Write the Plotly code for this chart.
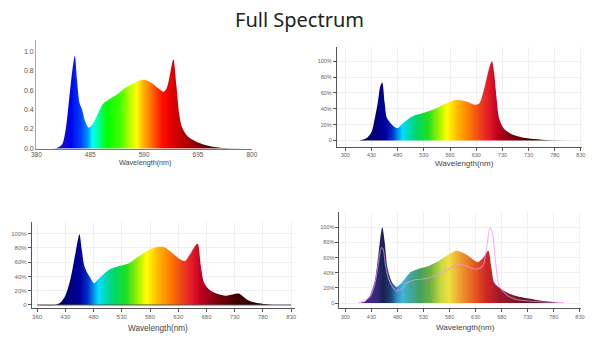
import plotly.graph_objects as go

# ---------------- data ----------------
# Panel 1 (top-left), relative intensity 0..1
wl1 = [380, 420, 430, 437, 443, 450, 455, 459, 464, 469, 475, 482, 491, 501, 510, 523, 536, 555,
       572, 590, 606, 620, 628, 634, 640, 647, 653, 658, 663, 670, 676, 695, 721, 750, 800]
val1 = [0.0, 0.005, 0.04, 0.19, 0.46, 0.80, 0.955, 0.72, 0.47, 0.40, 0.28, 0.215, 0.26, 0.37, 0.46,
        0.51, 0.55, 0.63, 0.68, 0.707, 0.67, 0.61, 0.585, 0.62, 0.75, 0.92, 0.65, 0.37, 0.23, 0.16,
        0.12, 0.06, 0.02, 0.003, 0.0]

# Panel 2 (top-right), percent
wl2 = [407, 421, 430, 436, 442, 447, 450.5, 455, 459, 464, 472, 480, 489, 502, 514, 533, 552, 570,
       592, 611, 627, 636, 645, 655, 660, 664, 669, 674, 683, 699, 724, 755, 802]
val2 = [0, 3, 10.5, 27, 48, 69, 73, 48, 29, 24, 18, 15.5, 21, 28, 32, 35.6, 40, 46,
        51, 49, 45, 47, 65, 92, 100, 86, 52, 27, 14.7, 7.5, 3, 1, 0]

# Panel 3 (bottom-left), percent
wl3 = [380, 413, 422, 430, 439, 448, 455, 459, 463.5, 469, 474, 481, 488, 500, 511.5, 526, 543.5,
       561, 578, 595, 605, 618, 633, 642, 650.6, 664, 670, 675.6, 685, 700, 714, 729, 737, 752,
       764, 781, 804, 830]
val3 = [0, 0.5, 4, 13, 36, 73, 99, 78, 55, 45, 38.5, 30.6, 36, 45, 51, 54.7, 59,
        68.6, 77, 81.5, 81, 74, 64, 61.6, 70.8, 86, 54.7, 31.5, 21.3, 15.3, 13, 15.3, 16, 7.5,
        3.8, 1.5, 0, 0]

# Panel 4 (bottom-right), percent: filled spectrum and pink comparison line
wl4 = [405, 417.7, 427, 436.5, 442.7, 450.8, 455.3, 459.7, 464.7, 471, 478.5, 486.6, 496, 505.4,
       521.2, 540, 559, 577.7, 593.3, 612, 624.8, 634.2, 643.6, 654.2, 659.2, 665.5, 674.9, 693.7,
       719, 744, 769, 788, 794]
val4 = [0, 2, 9.6, 29, 60, 100, 81.6, 51, 36, 25.7, 21.4, 25.7, 33.6, 41,
        45.4, 49, 55.4, 64, 69, 64, 57.5, 54, 59, 69, 51, 27, 20.5, 12.7,
        7.5, 4.4, 2, 0.5, 0]
wl4p = [405, 427, 436.5, 442.7, 449, 452, 457.2, 463.4, 471, 478.5, 486.6, 499, 514.8, 533.7, 559,
        577.7, 593.3, 612, 631, 643.6, 651, 657.4, 662.5, 668.7, 674.9, 687.5, 706.3, 744, 800]
val4p = [0, 8, 25, 50, 72.8, 72, 49, 31, 20.5, 16, 18, 27, 31, 32, 38,
         44.5, 51, 49, 44.5, 49, 73, 100, 90, 51, 22.7, 11.8, 5, 2, 0.5]

# tick labels
x1_ticks = [380, 485, 590, 695, 800]
y1_ticks = [0, 0.2, 0.4, 0.6, 0.8, 1.0]
x_ticks = [380, 430, 480, 530, 580, 630, 680, 730, 780, 830]
x2_text = ["300", "430", "480", "530", "560", "630", "730", "730", "780", "830"]
x3_text = ["360", "430", "480", "530", "580", "630", "680", "730", "780", "830"]
x4_text = ["300", "430", "480", "530", "580", "630", "680", "730", "780", "830"]
y_ticks = [0, 20, 40, 60, 80, 100]
y_text = ["0", "20%", "40%", "60%", "80%", "100%"]

# colour stops along wavelength
c1_wl = [400, 430, 445, 465, 478, 487, 500, 515, 540, 560, 572, 585, 600, 620, 640, 665, 700, 760, 800]
c1_col = ["#1a0050", "#1010c0", "#0000f0", "#0040ff", "#0090ff", "#00ffff", "#00ff90", "#00ff00",
          "#40ff00", "#c0ff00", "#ffff00", "#ffb000", "#ff7000", "#ff1000", "#e00000", "#b00000",
          "#700000", "#200000", "#000000"]
c2_wl = [400, 440, 455, 468, 478, 487, 500, 515, 535, 555, 570, 590, 610, 630, 650, 665, 690, 730, 800]
c2_col = ["#000060", "#000080", "#0000a0", "#0030c8", "#0090e8", "#00e0ff", "#00d8b0", "#00d860",
          "#20e020", "#a0f000", "#ffff00", "#ffb800", "#ff8000", "#f04818", "#e01828", "#c00020",
          "#800010", "#400000", "#100000"]
c4_wl = [400, 420, 440, 452, 465, 478, 488, 500, 520, 540, 560, 575, 595, 620, 645, 670, 720, 795]
c4_col = ["#402080", "#4a2a90", "#302878", "#18204f", "#1f3f78", "#3a90c8", "#40b8d8", "#40a8a8",
          "#40a060", "#70b040", "#c8d840", "#f0e040", "#f0a030", "#e86020", "#d02828", "#a01828",
          "#601828", "#400818"]


def gradient(wls, cols):
    lo, hi = wls[0], wls[-1]
    return dict(type="horizontal", start=lo, stop=hi,
                colorscale=[[(w - lo) / (hi - lo), c] for w, c in zip(wls, cols)])


fig = go.Figure()

fig.add_trace(go.Scatter(x=wl1, y=val1, mode="lines", fill="tozeroy",
                         line=dict(width=0, shape="spline", smoothing=0.8),
                         fillgradient=gradient(c1_wl, c1_col), xaxis="x", yaxis="y",
                         hoverinfo="skip"))
fig.add_trace(go.Scatter(x=wl2, y=val2, mode="lines", fill="tozeroy",
                         line=dict(width=0, shape="spline", smoothing=0.8),
                         fillgradient=gradient(c2_wl, c2_col), xaxis="x2", yaxis="y2",
                         hoverinfo="skip"))
fig.add_trace(go.Scatter(x=wl3, y=val3, mode="lines", fill="tozeroy",
                         line=dict(width=0, shape="spline", smoothing=0.8),
                         fillgradient=gradient(c2_wl, c2_col), xaxis="x3", yaxis="y3",
                         hoverinfo="skip"))
fig.add_trace(go.Scatter(x=[wl3[0], wl3[-1]], y=[val3[0], val3[-1]], mode="lines",
                         line=dict(width=1, color="#555555"), xaxis="x3", yaxis="y3",
                         hoverinfo="skip"))
fig.add_trace(go.Scatter(x=wl4, y=val4, mode="lines", fill="tozeroy",
                         line=dict(width=0, shape="spline", smoothing=0.8),
                         fillgradient=gradient(c4_wl, c4_col), xaxis="x4", yaxis="y4",
                         hoverinfo="skip"))
fig.add_trace(go.Scatter(x=wl4p, y=val4p, mode="lines",
                         line=dict(width=1.1, color="rgba(238,150,232,0.7)", shape="spline", smoothing=0.8),
                         xaxis="x4", yaxis="y4", hoverinfo="skip"))

W, H = 600, 341
tf = "Liberation Sans, Arial, sans-serif"


def px_x(a, b):
    return [a / W, b / W]


def px_y(bottom, top):
    return [1 - bottom / H, 1 - top / H]


common_x = dict(showline=True, linecolor="#555555", linewidth=1, ticks="outside", ticklen=3,
                tickcolor="#555555", tickfont=dict(size=5.5, color="#666666", family=tf),
                showgrid=True, gridcolor="#f0f0f0", gridwidth=1, zeroline=False, tickvals=x_ticks)
common_y = dict(showline=True, linecolor="#555555", linewidth=1, ticks="outside", ticklen=3,
                tickcolor="#555555", tickfont=dict(size=5.5, color="#666666", family=tf),
                showgrid=True, gridcolor="#f0f0f0", gridwidth=1, zeroline=False,
                tickvals=y_ticks, ticktext=y_text)

fig.update_layout(
    width=W, height=H, margin=dict(l=0, r=0, t=0, b=0),
    paper_bgcolor="white", plot_bgcolor="white", showlegend=False,
    xaxis=dict(domain=px_x(31.7, 251.7), range=[379.5, 800.5], anchor="y",
               tickvals=x1_ticks, showline=True, linecolor="#777777", linewidth=1,
               ticks="", showgrid=False, zeroline=False,
               tickfont=dict(size=6.5, color="#555555", family=tf)),
    yaxis=dict(domain=px_y(150, 40), range=[-0.003, 1.122], anchor="x",
               tickvals=y1_ticks, tickformat=".1f", showline=True, linecolor="#aaaaaa",
               linewidth=1, ticks="", showgrid=False, zeroline=False,
               tickfont=dict(size=7, color="#555555", family=tf)),
    xaxis2=dict(domain=px_x(338, 588), range=[363.7, 832.4], anchor="y2", ticktext=x2_text, **common_x),
    yaxis2=dict(domain=px_y(148, 47), range=[-7.9, 118.4], anchor="x2", **common_y),
    xaxis3=dict(domain=px_x(27.3, 295), range=[370.6, 836.1], anchor="y3", ticktext=x3_text, **common_x),
    yaxis3=dict(domain=px_y(311, 224), range=[-4.6, 116.3], anchor="x3", **common_y),
    xaxis4=dict(domain=px_x(340.7, 587), range=[368.7, 832.5], anchor="y4", ticktext=x4_text, **common_x),
    yaxis4=dict(domain=px_y(311, 214), range=[-6.9, 120], anchor="x4", **common_y),
)
fig.update_xaxes(selector=dict(anchor="y3"), tickfont=dict(size=6))
fig.update_yaxes(selector=dict(anchor="x3"), tickfont=dict(size=6))

titles = [(143, 164, 7.2), (468, 164.5, 8), (156, 331.5, 8.2), (469, 330, 8)]
for (cx, cy, fs) in titles:
    fig.add_annotation(text="Wavelength(nm)", x=cx / W, y=1 - cy / H, xref="paper", yref="paper",
                       showarrow=False, xanchor="center", yanchor="middle",
                       font=dict(size=fs, color="#444444", family=tf))

fig.add_annotation(text="Full Spectrum", x=0.5, y=1 - 20 / H, xref="paper", yref="paper",
                   showarrow=False, xanchor="center", yanchor="middle",
                   font=dict(size=20, color="#231f20", family="Noto Sans, Roboto, sans-serif"))

fig.write_html("out.html")
